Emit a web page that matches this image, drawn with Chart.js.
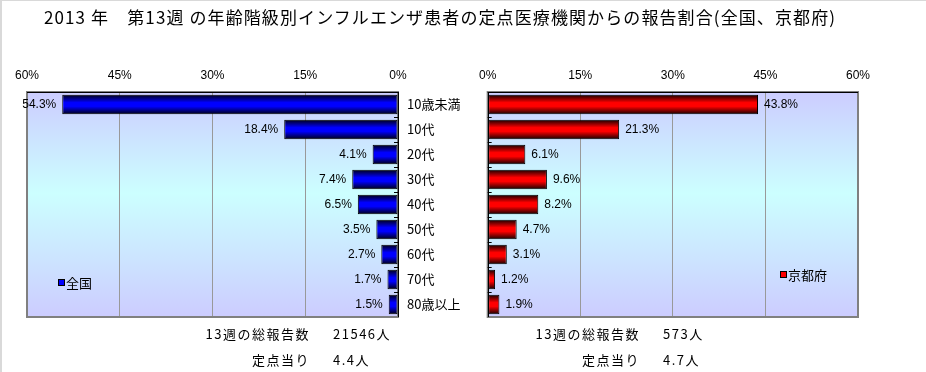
<!DOCTYPE html>
<html lang="ja">
<head>
<meta charset="utf-8">
<script src="https://cdn.jsdelivr.net/npm/chart.js@4.4.1/dist/chart.umd.min.js"></script>
<style>
  body { margin: 0; background: #fff; }
  #wrap { position: relative; width: 926px; height: 372px; overflow: hidden; background: #fff;
          font-family: "Noto Sans CJK JP", "Liberation Sans", sans-serif; color: #000; }
  canvas { position: absolute; top: 0; }
  .txt { position: absolute; white-space: nowrap; line-height: 1; }
  .title { left: 44px; top: 8px; font-size: 17px; letter-spacing: 1.1px; }
  .sum { font-size: 13px; letter-spacing: 1.5px; }
  .lg { font-size: 13px; }
  .sq { display: inline-block; width: 5px; height: 5px; border: 1px solid #000; margin-right: 1px; vertical-align: 2px; }
  .edge { position: absolute; background: #d9d9d9; }
</style>
</head>
<body>
<div id="wrap">
  <div class="edge" style="left:0;top:0;width:926px;height:1px"></div>
  <div class="edge" style="left:0;top:0;width:2px;height:372px"></div>

  <canvas id="leftChart" width="470" height="372" style="left:0"></canvas>
  <canvas id="rightChart" width="456" height="372" style="left:470px"></canvas>

  <div class="txt title">2013 年　第13週 の年齢階級別インフルエンザ患者の定点医療機関からの報告割合(全国、京都府)</div>

  <div class="txt lg" style="left:58px;top:276px"><span class="sq" style="background:#0000ff"></span>全国</div>
  <div class="txt lg" style="left:780px;top:268px"><span class="sq" style="background:#ff0000"></span>京都府</div>

  <div class="txt sum" style="right:616px;top:327px">13週の総報告数</div>
  <div class="txt sum" style="left:333px;top:327px">21546人</div>
  <div class="txt sum" style="right:616px;top:353px">定点当り</div>
  <div class="txt sum" style="left:333px;top:353px">4.4人</div>

  <div class="txt sum" style="right:286px;top:327px">13週の総報告数</div>
  <div class="txt sum" style="left:663px;top:327px">573人</div>
  <div class="txt sum" style="right:286px;top:353px">定点当り</div>
  <div class="txt sum" style="left:663px;top:353px">4.7人</div>
</div>

<script>
// data
const categories = ['10歳未満', '10代', '20代', '30代', '40代', '50代', '60代', '70代', '80歳以上'];
const zenkoku = [54.3, 18.4, 4.1, 7.4, 6.5, 3.5, 2.7, 1.7, 1.5];
const kyoto = [43.8, 21.3, 6.1, 9.6, 8.2, 4.7, 3.1, 1.2, 1.9];
const pctTicks = [0, 15, 30, 45, 60];

const tickFont = { family: 'Liberation Sans', size: 12 };

// plot area background (lavender -> cyan -> lavender)
const plotBackground = {
    id: 'plotBackground',
    beforeDraw(chart) {
        const { ctx, chartArea: a } = chart;
        const g = ctx.createLinearGradient(0, a.top, 0, a.bottom);
        g.addColorStop(0, '#ccccff');
        g.addColorStop(0.45, '#ccffff');
        g.addColorStop(1, '#ccccff');
        ctx.save();
        ctx.fillStyle = g;
        ctx.fillRect(a.left, a.top, a.right - a.left, a.bottom - a.top);
        ctx.restore();
    }
};

// grey frame, black axis lines and the little category ticks
const plotFrame = {
    id: 'plotFrame',
    beforeDatasetsDraw(chart, args, opts) {
        const { ctx, chartArea: a } = chart;
        ctx.save();
        ctx.strokeStyle = '#808080';
        ctx.lineWidth = 2;
        ctx.strokeRect(a.left, a.top, a.right - a.left, a.bottom - a.top);
        ctx.strokeStyle = '#000';
        ctx.lineWidth = 1;
        const zeroX = chart.scales.x.getPixelForValue(0);
        ctx.beginPath();
        ctx.moveTo(a.left, a.top + 0.5);
        ctx.lineTo(a.right, a.top + 0.5);
        ctx.moveTo(Math.round(zeroX) + 0.5, a.top);
        ctx.lineTo(Math.round(zeroX) + 0.5, a.bottom);
        const step = (a.bottom - a.top) / categories.length;
        const dir = opts.side === 'left' ? -1 : 1;
        for (let i = 1; i < categories.length; i++) {
            const yy = Math.round(a.top + step * i) + 0.5;
            ctx.moveTo(zeroX, yy);
            ctx.lineTo(zeroX + dir * 4, yy);
        }
        ctx.stroke();
        ctx.restore();
    }
};

// value labels next to the bar ends, plus category names in the middle
const barLabels = {
    id: 'barLabels',
    afterDatasetsDraw(chart, args, opts) {
        const { ctx } = chart;
        const meta = chart.getDatasetMeta(0);
        const values = chart.data.datasets[0].data;
        ctx.save();
        ctx.fillStyle = '#000';
        ctx.font = '12px "Liberation Sans"';
        ctx.textBaseline = 'middle';
        meta.data.forEach((bar, i) => {
            const txt = values[i].toFixed(1) + '%';
            if (opts.side === 'left') {
                ctx.textAlign = 'right';
                ctx.fillText(txt, bar.x - 6, bar.y);
            } else {
                ctx.textAlign = 'left';
                ctx.fillText(txt, bar.x + 6, bar.y);
            }
        });
        if (opts.names) {
            ctx.font = '13px "Noto Sans CJK JP"';
            ctx.textAlign = 'left';
            categories.forEach((c, i) => {
                ctx.fillText(c, opts.names, chart.scales.y.getPixelForValue(i));
            });
        }
        ctx.restore();
    }
};

function barGradient(dark, bright) {
    return function (context) {
        const chart = context.chart;
        const y = chart.scales && chart.scales.y;
        if (!y || context.dataIndex === undefined) return bright;
        const c = y.getPixelForValue(context.dataIndex);
        if (!isFinite(c)) return bright;
        const h = 9.5;
        const g = chart.ctx.createLinearGradient(0, c - h, 0, c + h);
        g.addColorStop(0, dark);
        g.addColorStop(0.4, bright);
        g.addColorStop(0.6, bright);
        g.addColorStop(1, dark);
        return g;
    };
}

function makeChart(id, label, values, side, padding, dark, bright, names) {
    return new Chart(document.getElementById(id), {
        type: 'bar',
        data: {
            labels: categories,
            datasets: [{
                label: label,
                data: values,
                backgroundColor: barGradient(dark, bright),
                borderColor: '#000',
                borderWidth: 1,
                borderSkipped: false,
                barPercentage: 0.78,
                categoryPercentage: 1
            }]
        },
        options: {
            indexAxis: 'y',
            responsive: false,
            animation: false,
            devicePixelRatio: 1,
            layout: { padding: padding },
            scales: {
                x: {
                    position: 'top',
                    reverse: side === 'left',
                    min: pctTicks[0],
                    max: pctTicks[pctTicks.length - 1],
                    afterFit(scale) { scale.height = 30; },
                    afterBuildTicks(scale) { scale.ticks = pctTicks.map(v => ({ value: v })); },
                    ticks: {
                        color: '#000',
                        font: tickFont,
                        padding: 9,
                        maxRotation: 0,
                        callback: v => v + '%'
                    },
                    grid: { color: '#999999', lineWidth: 1, drawTicks: false },
                    border: { display: false }
                },
                y: { display: false }
            },
            plugins: {
                legend: { display: false },
                tooltip: { enabled: false },
                plotFrame: { side: side },
                barLabels: { side: side, names: names }
            }
        },
        plugins: [plotBackground, plotFrame, barLabels]
    });
}

makeChart('leftChart', '全国', zenkoku, 'left',
    { left: 27, right: 72, top: 62, bottom: 55 }, '#00001a', '#0000ff', 407);
makeChart('rightChart', '京都府', kyoto, 'right',
    { left: 16, right: 68, top: 62, bottom: 55 }, '#1a0000', '#ff0000', null);
</script>
</body>
</html>
